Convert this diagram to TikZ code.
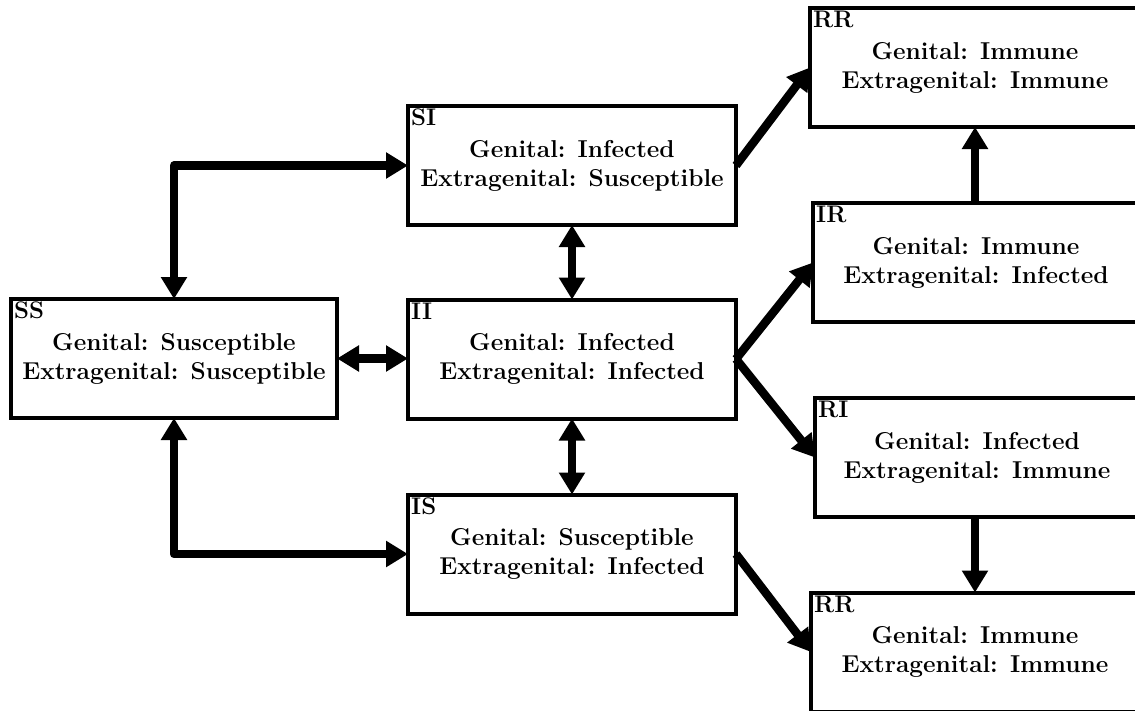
\documentclass[tikz,border=0pt]{standalone}
\usepackage{fontspec}
\usetikzlibrary{arrows.meta}
\begin{document}
\begin{tikzpicture}[x=1pt,y=-1pt,
  box/.style={draw, line width=4pt, minimum width=#1, minimum height=119pt, inner sep=0pt, outer sep=0pt},
  box/.default=328pt,
  txt/.style={font=\fontsize{24.4}{29}\selectfont\bfseries, align=center, inner sep=0pt},
  lbl/.style={font=\fontsize{24}{26}\selectfont\bfseries, anchor=north west, inner sep=3pt},
  conn/.style={line width=8.5pt, line join=round, -{Triangle[width=25pt,length=22pt]}},
  biconn/.style={line width=8.5pt, line join=round, {Triangle[width=25pt,length=22pt]}-{Triangle[width=25pt,length=22pt]}}]
\useasboundingbox (0,0) rectangle (1135,710);
\clip (0,0) rectangle (1135,710);
% left column
\node[box=326pt] (SS) at (174,358.5) {};
\node[txt] (SSt) at (SS.center) {Genital: Susceptible\\Extragenital: Susceptible};
\node[lbl] (SSl) at (SS.north west) {SS};
% middle column
\node[box] (SI) at (572,165.5) {};
\node[txt] (SIt) at (SI.center) {Genital: Infected\\Extragenital: Susceptible};
\node[lbl] (SIl) at (SI.north west) {SI};
\node[box] (II) at (572,359) {};
\node[txt] (IIt) at (II.center) {Genital: Infected\\Extragenital: Infected};
\node[lbl] (IIl) at (II.north west) {II};
\node[box] (IS) at (572,554) {};
\node[txt] (ISt) at (IS.center) {Genital: Susceptible\\Extragenital: Infected};
\node[lbl] (ISl) at (IS.north west) {IS};
% right column
\node[box=330pt] (RRa) at (975,67.5) {};
\node[txt] (RRat) at (RRa.center) {Genital: Immune\\Extragenital: Immune};
\node[lbl] (RRal) at (RRa.north west) {RR};
\node[box=326pt] (IR) at (976,262.5) {};
\node[txt] (IRt) at (IR.center) {Genital: Immune\\Extragenital: Infected};
\node[lbl] (IRl) at (IR.north west) {IR};
\node[box=324pt] (RI) at (977,457.5) {};
\node[txt] (RIt) at (RI.center) {Genital: Infected\\Extragenital: Immune};
\node[lbl] (RIl) at (RI.north west) {RI};
\node[box=328pt] (RRb) at (975,652) {};
\node[txt] (RRbt) at (RRb.center) {Genital: Immune\\Extragenital: Immune};
\node[lbl] (RRbl) at (RRb.north west) {RR};
% connectors
\draw[biconn] (SS.north) |- (SI.west);
\draw[biconn] (SS.south) |- (IS.west);
\draw[biconn] (SS.east) -- (SS.east -| II.west);
\draw[biconn] (SI.south) -- (II.north);
\draw[biconn] (II.south) -- (IS.north);
\draw[conn] (SI.east) -- (RRa.west);
\draw[conn] (II.east) -- (IR.west);
\draw[conn] (II.east) -- (RI.west);
\draw[conn] (IS.east) -- (RRb.west);
\draw[conn] (IR.north -| RRa.south) -- (RRa.south);
\draw[conn] (RI.south -| RRb.north) -- (RRb.north);
\end{tikzpicture}
\end{document}
